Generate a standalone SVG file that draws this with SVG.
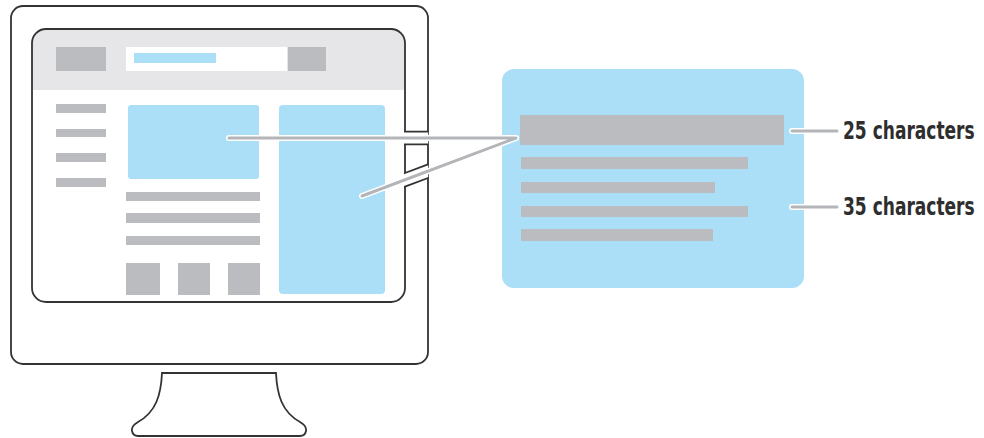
<svg xmlns="http://www.w3.org/2000/svg" width="984" height="438" viewBox="0 0 984 438">
<style>
.frame{fill:none;stroke:#333;stroke-width:1.8}
.blue{fill:#aadff7}
.gray{fill:#bbbcbf}
.halo{fill:none;stroke:#fff;stroke-width:6;stroke-linecap:round;stroke-linejoin:round}
.ln{fill:none;stroke:#b4b5b8;stroke-width:3;stroke-linecap:round;stroke-linejoin:round}
.cutdark{fill:none;stroke:#333;stroke-width:14.5}
.cutwhite{fill:none;stroke:#fff;stroke-width:11}
.lbl{font-family:"DejaVu Sans Condensed","DejaVu Sans",sans-serif;font-weight:bold;font-size:24px;fill:#2e2e2e}
</style>
<defs>
<clipPath id="scr"><rect x="32" y="29" width="373" height="273" rx="14"/></clipPath>
<clipPath id="bezel"><rect x="404" y="100" width="24.2" height="120"/></clipPath>
</defs>
<rect width="984" height="438" fill="#fff"/>
<g id="monitor">
<path d="M162,373 L276,373 C277,395 282,412 300,422 Q307,426 306,431 Q305,436 300,436 L138,436 Q133,436 132,431 Q131,426 138,422 C156,412 161,395 162,373 Z" fill="#fff" stroke="#333" stroke-width="1.8"/>
<rect x="11" y="6" width="417" height="358" rx="12" fill="#fff" stroke="#333" stroke-width="1.8"/>
<g clip-path="url(#scr)">
<rect x="32" y="29" width="373" height="61" fill="#e6e6e8"/>
</g>
<rect class="frame" x="32" y="29" width="373" height="273" rx="14"/>
<rect class="gray" x="56" y="47" width="50" height="24"/>
<rect x="126" y="47" width="161" height="24" fill="#fff"/>
<rect class="blue" x="134" y="53" width="82" height="10"/>
<rect class="gray" x="288" y="47" width="38" height="24"/>
<rect class="gray" x="56" y="104" width="50" height="9"/>
<rect class="gray" x="56" y="129" width="50" height="8"/>
<rect class="gray" x="56" y="153" width="50" height="9"/>
<rect class="gray" x="56" y="178" width="50" height="9"/>
<rect class="blue" x="128" y="105" width="131" height="74" rx="3"/>
<rect class="blue" x="279" y="105" width="106" height="189" rx="4"/>
<rect class="gray" x="126" y="192" width="134" height="9"/>
<rect class="gray" x="126" y="213" width="134" height="10"/>
<rect class="gray" x="126" y="236" width="134" height="9"/>
<rect class="gray" x="126" y="263" width="34" height="32"/>
<rect class="gray" x="178" y="263" width="32" height="32"/>
<rect class="gray" x="228" y="263" width="32" height="32"/>
</g>
<g id="card">
<rect class="blue" x="502" y="69" width="302" height="219" rx="12"/>
<rect class="gray" x="520" y="115" width="264" height="30"/>
<rect class="gray" x="521" y="157" width="227" height="12"/>
<rect class="gray" x="521" y="182" width="194" height="11"/>
<rect class="gray" x="521" y="206" width="227" height="11"/>
<rect class="gray" x="521" y="229" width="192" height="12"/>
</g>
<g id="connectors">
<g clip-path="url(#bezel)">
<path class="cutdark" d="M229,138 L516,138 L362,196"/>
<path class="cutwhite" d="M229,138 L516,138 L362,196"/>
</g>
<path class="halo" d="M229,138 L516,138 L362,196"/>
<path class="ln" d="M229,138 L516,138 L362,196"/>
<path class="halo" d="M792,131 L837,131"/>
<path class="ln" d="M792,131 L837,131"/>
<path class="halo" d="M792,207 L837,207"/>
<path class="ln" d="M792,207 L837,207"/>
</g>
<g id="label-25" transform="translate(843,139) scale(0.79,1)">
<text class="lbl" x="0" y="0">25 characters</text>
</g>
<g id="label-35" transform="translate(843,215) scale(0.79,1)">
<text class="lbl" x="0" y="0">35 characters</text>
</g>
</svg>
